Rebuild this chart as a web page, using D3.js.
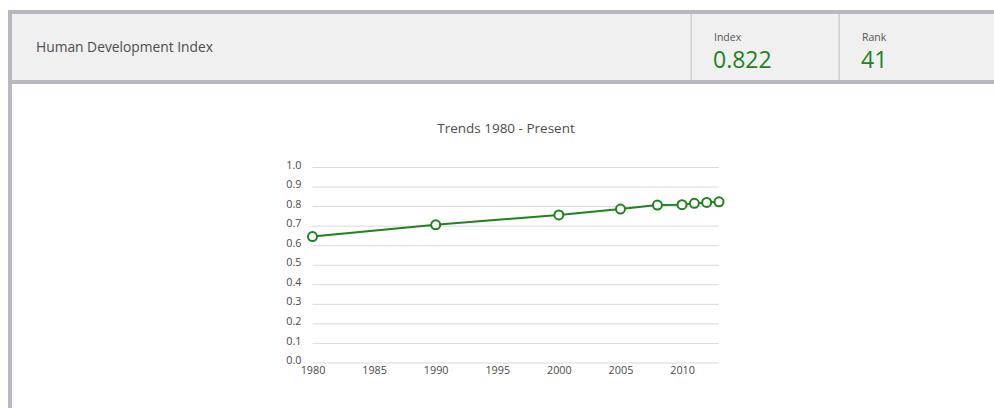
<!DOCTYPE html>
<html>
<head>
<meta charset="utf-8">
<script src="https://cdn.jsdelivr.net/npm/d3@7"></script>
<style>
  html, body { margin: 0; padding: 0; background: #fff; }
  svg text { font-family: "Open Sans", "Noto Sans", sans-serif; }
</style>
</head>
<body>
<div id="svg-container"></div>
<script>
// Data ---------------------------------------------------------------------
const years = [1980, 1990, 2000, 2005, 2008, 2010, 2011, 2012, 2013];
const hdiValues = [0.644, 0.704, 0.755, 0.785, 0.805, 0.807, 0.814, 0.819, 0.822];
const yTicks = [0, 0.1, 0.2, 0.3, 0.4, 0.5, 0.6, 0.7, 0.8, 0.9, 1.0];
const xTicks = [1980, 1985, 1990, 1995, 2000, 2005, 2010];
const headerTitle = "Human Development Index";
const chartTitle = "Trends 1980 - Present";
const stats = [{label: "Index", value: "0.822"}, {label: "Rank", value: "41"}];

const data = years.map((y, i) => ({year: y, value: hdiValues[i]}));

// Dimensions ---------------------------------------------------------------
const width = 994, height = 408;
const green = "#1f821f";
const border = "#b8b8c2";

const svg = d3.select("#svg-container").append("svg")
  .attr("width", width)
  .attr("height", height);

// Header panel ---------------------------------------------------------------
svg.append("rect")
  .attr("x", 12).attr("y", 14).attr("width", width - 12).attr("height", 66)
  .attr("fill", "#f0f0f0");
svg.append("rect") // top border
  .attr("x", 8).attr("y", 10).attr("width", width - 8).attr("height", 4)
  .attr("fill", border);
svg.append("rect") // bottom border
  .attr("x", 8).attr("y", 80).attr("width", width - 8).attr("height", 4)
  .attr("fill", border);
svg.append("rect") // left border
  .attr("x", 8).attr("y", 10).attr("width", 4).attr("height", height - 10)
  .attr("fill", border);

svg.append("text")
  .attr("x", 36).attr("y", 52)
  .attr("font-size", 13.8)
  .attr("fill", "#4d4d4d")
  .text(headerTitle);

const statX = [714, 862];
const dividerX = [691, 839];
dividerX.forEach(x => {
  svg.append("rect")
    .attr("x", x - 0.5).attr("y", 14).attr("width", 1.5).attr("height", 66)
    .attr("fill", "#d0d0d4");
});
stats.forEach((s, i) => {
  svg.append("text")
    .attr("x", statX[i]).attr("y", 41)
    .attr("font-size", 10.5)
    .attr("fill", "#555")
    .text(s.label);
  svg.append("text")
    .attr("x", statX[i] - 1).attr("y", 68)
    .attr("font-size", 23)
    .attr("fill", green)
    .text(s.value);
});

// Chart ----------------------------------------------------------------------
svg.append("text")
  .attr("x", 506).attr("y", 133)
  .attr("text-anchor", "middle")
  .attr("font-size", 13.5)
  .attr("fill", "#4d4d4d")
  .text(chartTitle);

const x = d3.scaleLinear().domain([1980, 2013]).range([312.5, 719]);
const y = d3.scaleLinear().domain([0, 1]).range([362.5, 167]);

// Grid lines
svg.append("g")
  .attr("class", "grid")
  .attr("transform", `translate(${x.range()[0]},0)`)
  .call(d3.axisLeft(y).tickValues(yTicks).tickSize(-(x.range()[1] - x.range()[0])).tickFormat(""))
  .call(g => g.select(".domain").remove())
  .call(g => g.selectAll("line").attr("stroke", "#d9d9e0").attr("stroke-width", 1));

// Y axis labels
svg.append("g")
  .attr("transform", `translate(${x.range()[0] - 8},0)`)
  .call(d3.axisLeft(y).tickValues(yTicks).tickSize(0).tickFormat(d3.format(".1f")))
  .call(g => g.select(".domain").remove())
  .call(g => g.selectAll("text").attr("font-size", 10.8).attr("fill", "#4a4a4a")
    .style("font-family", "'Open Sans', sans-serif").attr("dy", "0.1em"));

// X axis labels
svg.append("g")
  .attr("transform", `translate(0,${y(0) + 1})`)
  .call(d3.axisBottom(x).tickValues(xTicks).tickSize(0).tickFormat(d3.format("d")))
  .call(g => g.select(".domain").remove())
  .call(g => g.selectAll("text").attr("font-size", 10.8).attr("fill", "#4a4a4a")
    .style("font-family", "'Open Sans', sans-serif"));

// Line
const line = d3.line()
  .x(d => x(d.year))
  .y(d => y(d.value));

svg.append("path")
  .datum(data)
  .attr("d", line)
  .attr("fill", "none")
  .attr("stroke", green)
  .attr("stroke-width", 2);

svg.selectAll(".dot")
  .data(data)
  .enter()
  .append("circle")
  .attr("class", "dot")
  .attr("cx", d => x(d.year))
  .attr("cy", d => y(d.value))
  .attr("r", 4.5)
  .attr("fill", "#fff")
  .attr("stroke", green)
  .attr("stroke-width", 2);
</script>
</body>
</html>
